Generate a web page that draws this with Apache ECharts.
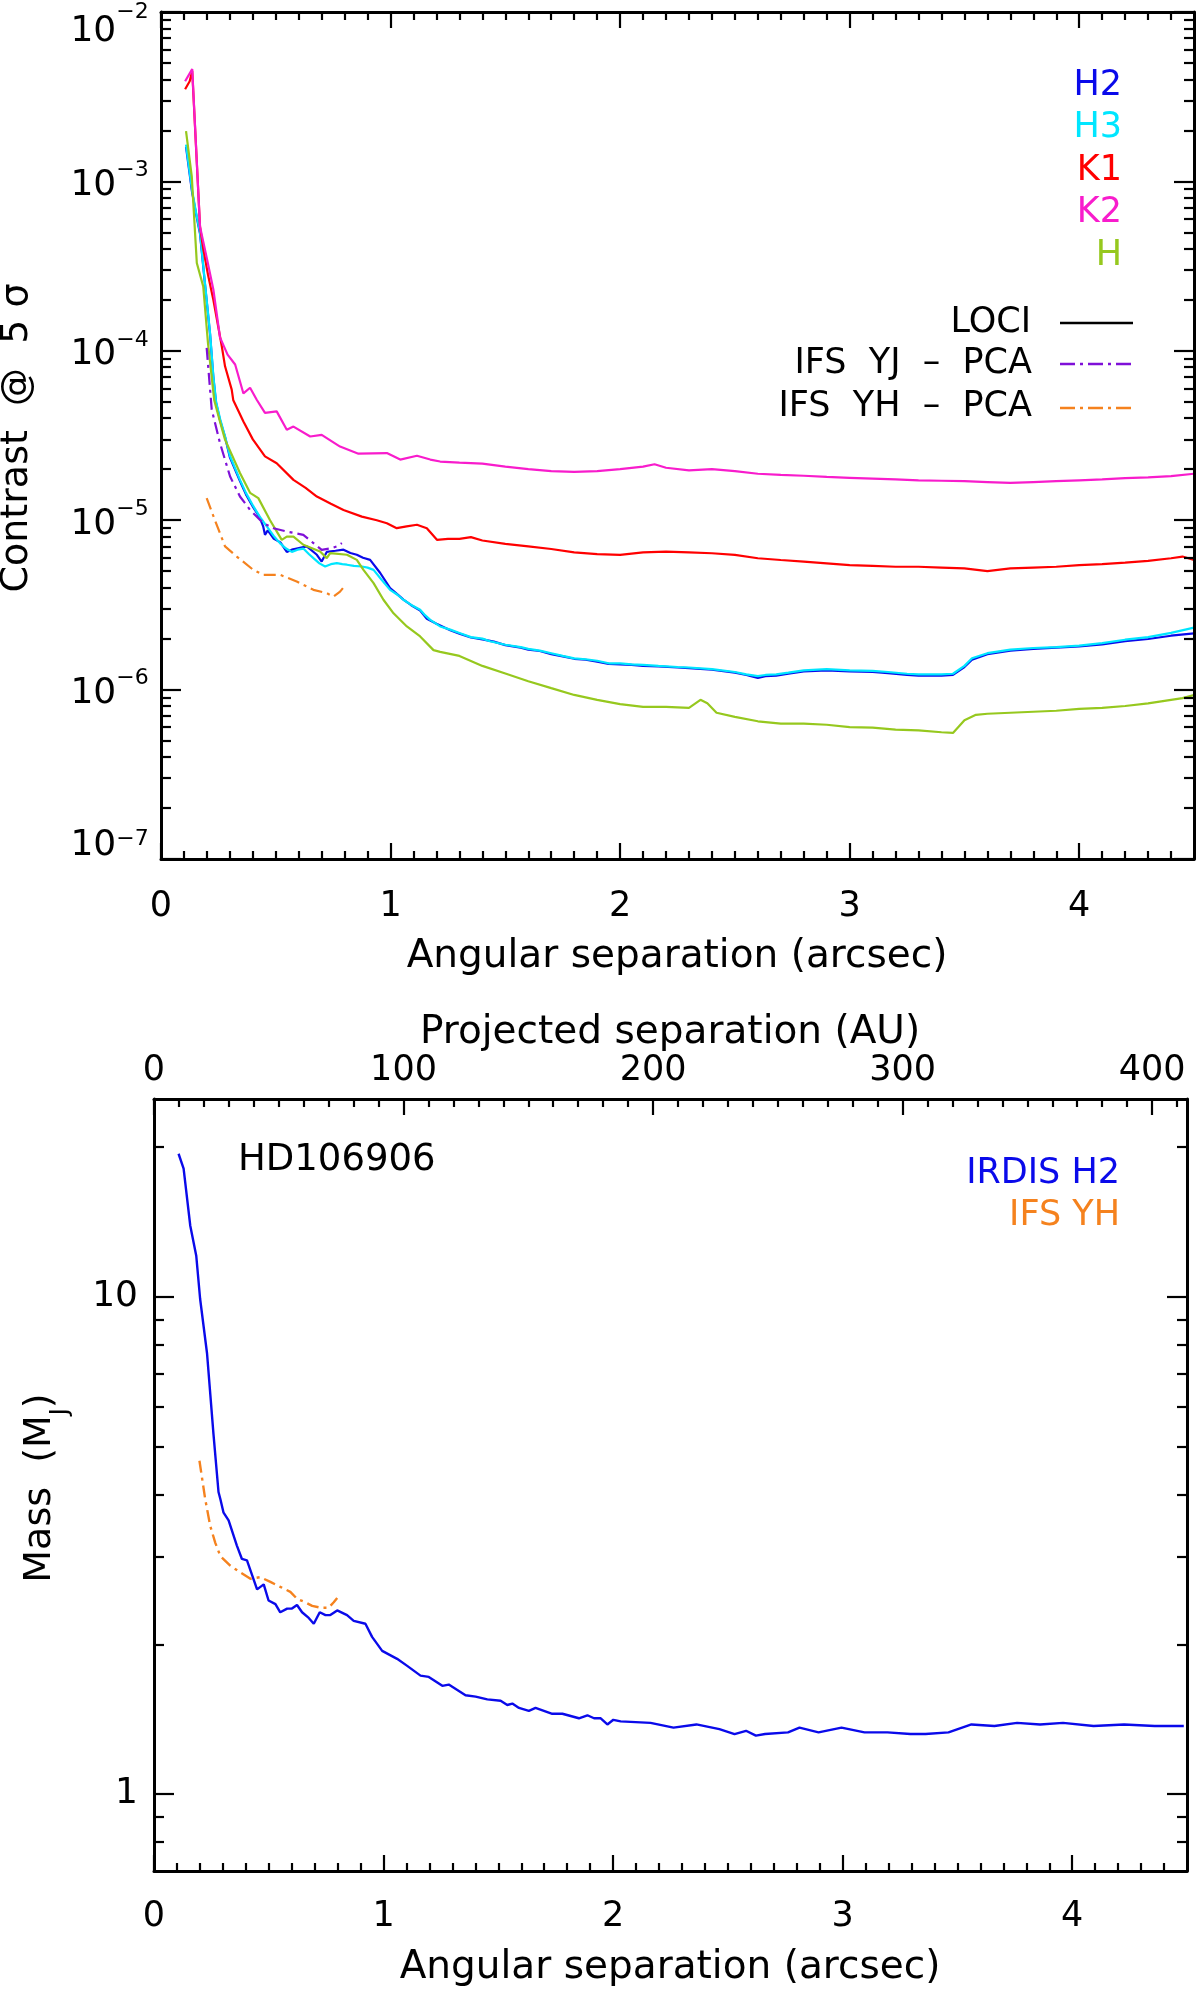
<!DOCTYPE html>
<html><head><meta charset="utf-8">
<script src="https://cdn.jsdelivr.net/npm/echarts@6/dist/echarts.min.js"></script>
<style>html,body{margin:0;padding:0;background:#fff}#c{width:1200px;height:1991px}</style>
</head><body><div id="c"></div>
<script>
// ---------- tick labels ----------
const sepTicks = [0, 1, 2, 3, 4];
const auTicks = [0, 100, 200, 300, 400];
const contrastTicks = [1e-7, 1e-6, 1e-5, 1e-4, 1e-3, 1e-2];
const massTicks = [1, 10];

// ---------- top panel: contrast @ 5 sigma vs separation (arcsec) ----------
const contrastH2 = [[0.109,1.60e-3],[0.135,8.7e-4],[0.155,6.2e-4],[0.170,4.9e-4],[0.190,2.6e-4],[0.214,1.24e-4],[0.228,7.0e-5],[0.240,4.9e-5],[0.257,3.9e-5],[0.279,3.1e-5],[0.300,2.35e-5],[0.344,1.70e-5],[0.370,1.42e-5],[0.402,1.19e-5],[0.430,1.04e-5],[0.445,9.2e-6],[0.453,8.2e-6],[0.465,8.7e-6],[0.490,7.8e-6],[0.520,7.4e-6],[0.548,6.5e-6],[0.570,6.7e-6],[0.591,6.8e-6],[0.635,7.0e-6],[0.679,6.25e-6],[0.700,5.7e-6],[0.722,6.5e-6],[0.760,6.6e-6],[0.795,6.7e-6],[0.825,6.4e-6],[0.853,6.25e-6],[0.880,6.0e-6],[0.911,5.83e-6],[0.955,4.88e-6],[0.998,3.97e-6],[1.030,3.65e-6],[1.056,3.40e-6],[1.090,3.15e-6],[1.129,2.93e-6],[1.158,2.62e-6],[1.200,2.45e-6],[1.260,2.24e-6],[1.300,2.14e-6],[1.350,2.03e-6],[1.400,1.98e-6],[1.450,1.92e-6],[1.500,1.83e-6],[1.567,1.77e-6],[1.600,1.72e-6],[1.650,1.69e-6],[1.700,1.62e-6],[1.750,1.57e-6],[1.800,1.52e-6],[1.850,1.50e-6],[1.900,1.46e-6],[1.950,1.42e-6],[2.000,1.41e-6],[2.050,1.40e-6],[2.100,1.38e-6],[2.167,1.37e-6],[2.250,1.35e-6],[2.300,1.34e-6],[2.400,1.31e-6],[2.500,1.26e-6],[2.550,1.22e-6],[2.600,1.17e-6],[2.633,1.20e-6],[2.680,1.21e-6],[2.733,1.24e-6],[2.800,1.28e-6],[2.900,1.30e-6],[3.000,1.28e-6],[3.100,1.27e-6],[3.167,1.25e-6],[3.250,1.22e-6],[3.300,1.21e-6],[3.400,1.21e-6],[3.450,1.22e-6],[3.500,1.36e-6],[3.533,1.50e-6],[3.600,1.62e-6],[3.700,1.70e-6],[3.800,1.74e-6],[3.900,1.77e-6],[4.000,1.80e-6],[4.100,1.85e-6],[4.200,1.93e-6],[4.300,1.99e-6],[4.400,2.08e-6],[4.500,2.15e-6]];

const contrastH3 = [[0.109,1.65e-3],[0.135,8.9e-4],[0.155,6.3e-4],[0.170,5.0e-4],[0.190,2.63e-4],[0.214,1.26e-4],[0.228,7.1e-5],[0.240,5.0e-5],[0.257,3.98e-5],[0.279,3.12e-5],[0.300,2.40e-5],[0.344,1.73e-5],[0.370,1.45e-5],[0.402,1.21e-5],[0.430,1.05e-5],[0.461,9.2e-6],[0.490,8.1e-6],[0.519,7.3e-6],[0.545,6.8e-6],[0.570,6.5e-6],[0.595,6.7e-6],[0.620,6.8e-6],[0.645,6.3e-6],[0.664,5.97e-6],[0.690,5.56e-6],[0.715,5.33e-6],[0.740,5.5e-6],[0.766,5.58e-6],[0.790,5.5e-6],[0.810,5.46e-6],[0.840,5.37e-6],[0.875,5.33e-6],[0.900,5.25e-6],[0.926,5.09e-6],[0.960,4.47e-6],[0.998,3.88e-6],[1.030,3.63e-6],[1.056,3.39e-6],[1.090,3.16e-6],[1.129,2.96e-6],[1.150,2.75e-6],[1.173,2.58e-6],[1.216,2.36e-6],[1.260,2.26e-6],[1.300,2.16e-6],[1.350,2.04e-6],[1.400,2.00e-6],[1.433,1.93e-6],[1.500,1.84e-6],[1.567,1.78e-6],[1.600,1.74e-6],[1.650,1.70e-6],[1.700,1.64e-6],[1.750,1.58e-6],[1.800,1.53e-6],[1.850,1.51e-6],[1.900,1.48e-6],[1.950,1.43e-6],[2.000,1.43e-6],[2.050,1.41e-6],[2.100,1.40e-6],[2.167,1.38e-6],[2.250,1.36e-6],[2.300,1.35e-6],[2.400,1.32e-6],[2.500,1.27e-6],[2.550,1.23e-6],[2.600,1.20e-6],[2.633,1.22e-6],[2.680,1.23e-6],[2.733,1.26e-6],[2.800,1.30e-6],[2.900,1.32e-6],[3.000,1.30e-6],[3.100,1.29e-6],[3.167,1.27e-6],[3.250,1.24e-6],[3.300,1.23e-6],[3.400,1.23e-6],[3.450,1.24e-6],[3.500,1.38e-6],[3.533,1.53e-6],[3.600,1.64e-6],[3.700,1.72e-6],[3.800,1.76e-6],[3.900,1.78e-6],[4.000,1.82e-6],[4.100,1.88e-6],[4.200,1.97e-6],[4.300,2.04e-6],[4.400,2.16e-6],[4.500,2.32e-6]];

const contrastK1 = [[0.105,3.5e-3],[0.125,3.9e-3],[0.136,4.5e-3],[0.170,5.4e-4],[0.184,4.0e-4],[0.205,2.8e-4],[0.228,2.0e-4],[0.265,1.06e-4],[0.279,8.1e-5],[0.308,5.9e-5],[0.315,5.1e-5],[0.359,3.83e-5],[0.400,3.0e-5],[0.453,2.38e-5],[0.504,2.17e-5],[0.577,1.73e-5],[0.630,1.55e-5],[0.679,1.38e-5],[0.740,1.25e-5],[0.795,1.15e-5],[0.875,1.05e-5],[0.940,1.00e-5],[0.984,9.6e-6],[1.027,8.97e-6],[1.070,9.2e-6],[1.115,9.4e-6],[1.158,8.97e-6],[1.202,7.66e-6],[1.250,7.76e-6],[1.300,7.76e-6],[1.350,7.94e-6],[1.400,7.59e-6],[1.500,7.24e-6],[1.600,7.00e-6],[1.700,6.76e-6],[1.800,6.46e-6],[1.900,6.30e-6],[2.000,6.24e-6],[2.100,6.46e-6],[2.200,6.53e-6],[2.300,6.46e-6],[2.400,6.38e-6],[2.500,6.24e-6],[2.600,5.96e-6],[2.700,5.82e-6],[2.800,5.69e-6],[2.900,5.56e-6],[3.000,5.43e-6],[3.100,5.37e-6],[3.200,5.31e-6],[3.300,5.31e-6],[3.400,5.25e-6],[3.500,5.19e-6],[3.600,5.01e-6],[3.700,5.19e-6],[3.800,5.25e-6],[3.900,5.31e-6],[4.000,5.43e-6],[4.100,5.50e-6],[4.200,5.62e-6],[4.300,5.75e-6],[4.400,5.96e-6],[4.450,6.10e-6],[4.500,5.82e-6]];

const contrastK2 = [[0.105,3.9e-3],[0.136,4.6e-3],[0.170,5.4e-4],[0.200,3.5e-4],[0.228,2.3e-4],[0.257,1.2e-4],[0.290,9.5e-5],[0.323,8.3e-5],[0.359,5.6e-5],[0.388,6.05e-5],[0.417,5.14e-5],[0.453,4.30e-5],[0.504,4.39e-5],[0.548,3.42e-5],[0.577,3.57e-5],[0.650,3.12e-5],[0.700,3.19e-5],[0.780,2.72e-5],[0.860,2.47e-5],[0.984,2.49e-5],[1.042,2.28e-5],[1.115,2.40e-5],[1.173,2.28e-5],[1.216,2.22e-5],[1.300,2.19e-5],[1.400,2.16e-5],[1.500,2.07e-5],[1.600,2.00e-5],[1.700,1.95e-5],[1.800,1.93e-5],[1.900,1.95e-5],[2.000,2.00e-5],[2.100,2.07e-5],[2.150,2.14e-5],[2.200,2.04e-5],[2.300,1.97e-5],[2.400,2.00e-5],[2.500,1.95e-5],[2.600,1.88e-5],[2.700,1.85e-5],[2.800,1.83e-5],[2.900,1.80e-5],[3.000,1.78e-5],[3.100,1.76e-5],[3.200,1.74e-5],[3.300,1.72e-5],[3.400,1.71e-5],[3.500,1.70e-5],[3.600,1.68e-5],[3.700,1.66e-5],[3.800,1.68e-5],[3.900,1.70e-5],[4.000,1.72e-5],[4.100,1.74e-5],[4.200,1.77e-5],[4.300,1.79e-5],[4.400,1.82e-5],[4.500,1.88e-5]];

const contrastH = [[0.109,1.98e-3],[0.134,1.07e-3],[0.156,3.3e-4],[0.184,2.4e-4],[0.205,1.1e-4],[0.232,5.1e-5],[0.255,3.9e-5],[0.279,2.99e-5],[0.344,1.90e-5],[0.388,1.45e-5],[0.424,1.35e-5],[0.475,1.00e-5],[0.526,7.65e-6],[0.548,8.0e-6],[0.577,8.0e-6],[0.620,7.16e-6],[0.693,6.53e-6],[0.722,5.97e-6],[0.737,6.4e-6],[0.810,6.25e-6],[0.853,5.83e-6],[0.882,5.09e-6],[0.926,4.25e-6],[0.969,3.39e-6],[1.013,2.82e-6],[1.071,2.36e-6],[1.129,2.06e-6],[1.187,1.71e-6],[1.216,1.67e-6],[1.300,1.58e-6],[1.400,1.38e-6],[1.500,1.245e-6],[1.600,1.12e-6],[1.700,1.02e-6],[1.800,9.3e-7],[1.900,8.7e-7],[2.000,8.2e-7],[2.100,7.9e-7],[2.200,7.9e-7],[2.300,7.8e-7],[2.350,8.7e-7],[2.380,8.3e-7],[2.420,7.3e-7],[2.500,6.9e-7],[2.600,6.5e-7],[2.700,6.3e-7],[2.800,6.3e-7],[2.900,6.2e-7],[3.000,6.0e-7],[3.100,5.96e-7],[3.200,5.8e-7],[3.300,5.75e-7],[3.400,5.6e-7],[3.450,5.55e-7],[3.500,6.6e-7],[3.550,7.1e-7],[3.600,7.2e-7],[3.700,7.3e-7],[3.800,7.4e-7],[3.900,7.5e-7],[4.000,7.7e-7],[4.100,7.8e-7],[4.200,8.0e-7],[4.300,8.3e-7],[4.400,8.7e-7],[4.450,8.9e-7],[4.500,9.3e-7]];

const contrastYJ = [[0.199,1.04e-4],[0.221,4.49e-5],[0.257,2.85e-5],[0.301,1.81e-5],[0.344,1.38e-5],[0.388,1.15e-5],[0.446,9.6e-6],[0.490,8.97e-6],[0.548,8.57e-6],[0.620,8.2e-6],[0.664,7.33e-6],[0.700,6.68e-6],[0.744,6.84e-6],[0.766,7.0e-6],[0.788,7.33e-6]];

const contrastYH = [[0.199,1.35e-5],[0.235,1.0e-5],[0.279,7.0e-6],[0.330,6.1e-6],[0.402,5.09e-6],[0.446,4.76e-6],[0.519,4.76e-6],[0.591,4.35e-6],[0.664,3.88e-6],[0.722,3.71e-6],[0.751,3.54e-6],[0.780,3.79e-6],[0.798,4.06e-6]];

// ---------- bottom panel: mass limit (M_J) vs separation (arcsec) ----------
const massIRDIS = [[0.107,19.4],[0.129,18.1],[0.158,13.9],[0.184,12.1],[0.201,9.9],[0.231,7.7],[0.259,5.3],[0.281,4.05],[0.289,3.92],[0.303,3.68],[0.325,3.55],[0.361,3.16],[0.383,2.97],[0.405,2.95],[0.449,2.58],[0.478,2.64],[0.499,2.45],[0.529,2.41],[0.550,2.32],[0.580,2.36],[0.601,2.36],[0.623,2.40],[0.645,2.32],[0.674,2.26],[0.696,2.20],[0.722,2.32],[0.747,2.29],[0.768,2.29],[0.798,2.34],[0.841,2.29],[0.870,2.23],[0.921,2.20],[0.950,2.07],[0.994,1.94],[1.059,1.87],[1.103,1.81],[1.161,1.73],[1.197,1.72],[1.256,1.65],[1.284,1.66],[1.357,1.58],[1.401,1.57],[1.452,1.55],[1.510,1.54],[1.539,1.51],[1.561,1.52],[1.590,1.49],[1.633,1.47],[1.662,1.49],[1.735,1.45],[1.779,1.45],[1.851,1.42],[1.888,1.44],[1.917,1.42],[1.946,1.42],[1.975,1.38],[2.001,1.41],[2.033,1.40],[2.163,1.39],[2.263,1.36],[2.363,1.38],[2.463,1.35],[2.529,1.32],[2.579,1.34],[2.622,1.31],[2.662,1.32],[2.762,1.33],[2.812,1.36],[2.895,1.33],[2.995,1.36],[3.095,1.33],[3.195,1.33],[3.295,1.32],[3.361,1.32],[3.461,1.33],[3.561,1.38],[3.661,1.37],[3.760,1.39],[3.860,1.38],[3.960,1.39],[4.093,1.37],[4.226,1.38],[4.359,1.37],[4.486,1.37]];

const massIFSYH = [[0.198,4.68],[0.210,4.30],[0.223,3.92],[0.245,3.46],[0.267,3.20],[0.289,3.01],[0.332,2.88],[0.376,2.79],[0.420,2.71],[0.463,2.73],[0.507,2.67],[0.550,2.61],[0.594,2.55],[0.623,2.47],[0.659,2.43],[0.689,2.39],[0.725,2.37],[0.761,2.37],[0.783,2.43],[0.798,2.48]];

// ---------- styling ----------
const F = "'DejaVu Sans', sans-serif";
const K = '#000';
const C = {H2:'#0a0aea', H3:'#00e6ff', K1:'#ff0000', K2:'#f81ccc', H:'#96c81e', YJ:'#7f10d8', YH:'#f5821e'};
const DASHDOT = [12, 5, 3, 5];

function minorList(a, b, step, skipEvery) {
  const out = [];
  for (let i = 1; a + i * step < b - 1e-9; i++) {
    if (i % skipEvery !== 0) out.push(+(a + i * step).toFixed(6));
  }
  return out;
}
function logMinors(lo, hi) {
  const out = [];
  for (let e = lo; e < hi; e++) for (let m = 2; m <= 9; m++) out.push(+(m * Math.pow(10, e)).toPrecision(3));
  return out;
}
const sepMinor = minorList(0, 4.5, 0.1, 10);
const auMinor = minorList(0, 414, 10, 10);
const contrastMinor = logMinors(-7, -2);
const massMinor = [0.8, 0.9, 2, 3, 4, 5, 6, 7, 8, 9, 20];

function ax(o) {
  const a = {
    type: o.type || 'value', gridIndex: o.grid, position: o.pos, min: o.min, max: o.max,
    splitLine: {show: false}, minorTick: {show: false}, minorSplitLine: {show: false},
    axisLine: {show: !!o.line, onZero: false, lineStyle: {color: K, width: 3}},
    axisTick: {show: true, inside: true, length: o.len, customValues: o.ticks, lineStyle: {color: K, width: 2.2}},
    axisLabel: o.labels ? Object.assign({show: true, customValues: o.labels, color: K, fontFamily: F, fontSize: 35, margin: o.margin}, o.lab || {}) : {show: false},
    axisPointer: {show: false}, silent: true, z: 5
  };
  if (o.type === 'log') a.logBase = 10;
  return a;
}
const xLab = {verticalAlign: 'middle', formatter: v => String(Math.round(v))};
function tok(fs, lh, va) { return {fontFamily: F, fontSize: fs, lineHeight: lh, verticalAlign: va, color: K}; }
const supLab = {
  formatter: v => {
    const e = Math.round(Math.log10(v));
    const p = e === -2 ? 't' : (e === -7 ? 'm' : 'n');
    return '{b' + p + '|10}{s' + p + '|' + (e < 0 ? '\u2212' : '') + Math.abs(e) + '}{d' + p + '| }';
  },
  rich: {
    bn: tok(36, 44, 'bottom'), sn: tok(22, 30, 'top'),    dn: tok(1, 44, 'middle'),
    bt: tok(36, 44, 'bottom'), st: tok(22, 30, 'middle'), dt: tok(1, 76, 'middle'),
    bm: tok(36, 34, 'top'),    sm: tok(22, 12, 'top'),    dm: tok(1, 62, 'middle')
  }
};

const CMIN = 9.999e-8, CMAX = 1.0001e-2;
const xAxis = [
  // top panel
  ax({grid: 0, pos: 'bottom', min: 0, max: 4.5, line: true, ticks: sepTicks, len: 16, labels: sepTicks, margin: 48, lab: xLab}),
  ax({grid: 0, pos: 'bottom', min: 0, max: 4.5, ticks: sepMinor, len: 8}),
  ax({grid: 0, pos: 'top', min: 0, max: 4.5, line: true, ticks: sepTicks, len: 16}),
  ax({grid: 0, pos: 'top', min: 0, max: 4.5, ticks: sepMinor, len: 8}),
  // bottom panel
  ax({grid: 1, pos: 'bottom', min: 0, max: 4.5, line: true, ticks: sepTicks, len: 16, labels: sepTicks, margin: 46, lab: xLab}),
  ax({grid: 1, pos: 'bottom', min: 0, max: 4.5, ticks: sepMinor, len: 8}),
  ax({grid: 1, pos: 'top', min: 0, max: 414, line: true, ticks: auTicks, len: 16, labels: auTicks, margin: 28, lab: xLab}),
  ax({grid: 1, pos: 'top', min: 0, max: 414, ticks: auMinor, len: 8})
];
const yAxis = [
  ax({grid: 0, type: 'log', pos: 'left', min: CMIN, max: CMAX, line: true, ticks: contrastTicks, len: 20, labels: contrastTicks, margin: 12, lab: supLab}),
  ax({grid: 0, type: 'log', pos: 'left', min: CMIN, max: CMAX, ticks: contrastMinor, len: 10}),
  ax({grid: 0, type: 'log', pos: 'right', min: CMIN, max: CMAX, line: true, ticks: contrastTicks, len: 20}),
  ax({grid: 0, type: 'log', pos: 'right', min: CMIN, max: CMAX, ticks: contrastMinor, len: 10}),
  ax({grid: 1, type: 'log', pos: 'left', min: 0.7, max: 25, line: true, ticks: massTicks, len: 20, labels: massTicks, margin: 16, lab: {fontSize: 36, formatter: v => String(Math.round(v))}}),
  ax({grid: 1, type: 'log', pos: 'left', min: 0.7, max: 25, ticks: massMinor, len: 10}),
  ax({grid: 1, type: 'log', pos: 'right', min: 0.7, max: 25, line: true, ticks: massTicks, len: 20}),
  ax({grid: 1, type: 'log', pos: 'right', min: 0.7, max: 25, ticks: massMinor, len: 10})
];

function line(name, data, color, xi, yi, dash, w) {
  return {
    name, type: 'line', data, xAxisIndex: xi, yAxisIndex: yi, showSymbol: false, symbol: 'none',
    lineStyle: {color, width: w || 2.2, type: dash || 'solid'}, itemStyle: {color},
    silent: true, animation: false, z: 3
  };
}

function txt(x, y, text, color, size, align, extra) {
  return Object.assign({
    type: 'text', x, y, silent: true, z: 10,
    style: {text, fill: color, font: size + 'px ' + F, align: align || 'center', verticalAlign: 'middle'}
  }, extra || {});
}
function seg(x1, x2, y, color, dash) {
  return {type: 'line', silent: true, z: 10, shape: {x1, y1: y, x2, y2: y},
    style: {stroke: color, lineWidth: 2.5, lineDash: dash || null}};
}

const graphics = [
  // top panel titles
  txt(677, 957, 'Angular separation (arcsec)', K, 39),
  txt(17, 438, 'Contrast  @  5 \u03c3', K, 38, 'center', {rotation: Math.PI / 2}),
  // top legend
  txt(1122, 86, 'H2', C.H2, 35, 'right'),
  txt(1122, 128, 'H3', C.H3, 35, 'right'),
  txt(1122, 171, 'K1', C.K1, 35, 'right'),
  txt(1122, 213, 'K2', C.K2, 35, 'right'),
  txt(1122, 256, 'H', C.H, 35, 'right'),
  txt(1031, 323, 'LOCI', K, 35, 'right'),
  txt(1032, 364, 'IFS  YJ  \u2013  PCA', K, 35, 'right'),
  txt(1032, 407, 'IFS  YH  \u2013  PCA', K, 35, 'right'),
  seg(1060, 1133, 323, K),
  seg(1060, 1133, 364, C.YJ, [15, 5, 3, 5]),
  seg(1060, 1133, 408, C.YH, [15, 5, 3, 5]),
  // bottom panel titles
  txt(670, 1033, 'Projected separation (AU)', K, 39),
  txt(670, 1968, 'Angular separation (arcsec)', K, 39),
  {type: 'text', x: 40, y: 1488, rotation: Math.PI / 2, silent: true, z: 10,
    style: {text: '{a|Mass  (M}{s|J}{a|)}', fill: K, font: '38px ' + F, align: 'center', verticalAlign: 'middle',
      rich: {a: {fontFamily: F, fontSize: 38, lineHeight: 66, verticalAlign: 'middle', fill: K},
             s: {fontFamily: F, fontSize: 24, lineHeight: 24, verticalAlign: 'bottom', fill: K}}}},
  txt(238, 1160, 'HD106906', K, 37, 'left'),
  txt(1120, 1174, 'IRDIS H2', C.H2, 35, 'right'),
  txt(1120, 1216, 'IFS YH', C.YH, 35, 'right')
];

const chart = echarts.init(document.getElementById('c'), null, {renderer: 'canvas'});
chart.setOption({
  backgroundColor: '#fff',
  animation: false,
  grid: [
    {left: 161, top: 12, width: 1033, height: 847, containLabel: false, outerBoundsMode: 'none', show: false},
    {left: 154, top: 1099, width: 1033, height: 772, containLabel: false, outerBoundsMode: 'none', show: false}
  ],
  xAxis, yAxis,
  series: [
    line('H2', contrastH2, C.H2, 0, 0),
    line('H3', contrastH3, C.H3, 0, 0),
    line('K1', contrastK1, C.K1, 0, 0),
    line('K2', contrastK2, C.K2, 0, 0),
    line('H', contrastH, C.H, 0, 0),
    line('IFS YJ - PCA', contrastYJ, C.YJ, 0, 0, DASHDOT),
    line('IFS YH - PCA', contrastYH, C.YH, 0, 0, DASHDOT),
    line('IRDIS H2', massIRDIS, C.H2, 4, 4, null, 2.4),
    line('IFS YH', massIFSYH, C.YH, 4, 4, DASHDOT, 2.4)
  ],
  graphic: {elements: graphics}
});
</script></body></html>
